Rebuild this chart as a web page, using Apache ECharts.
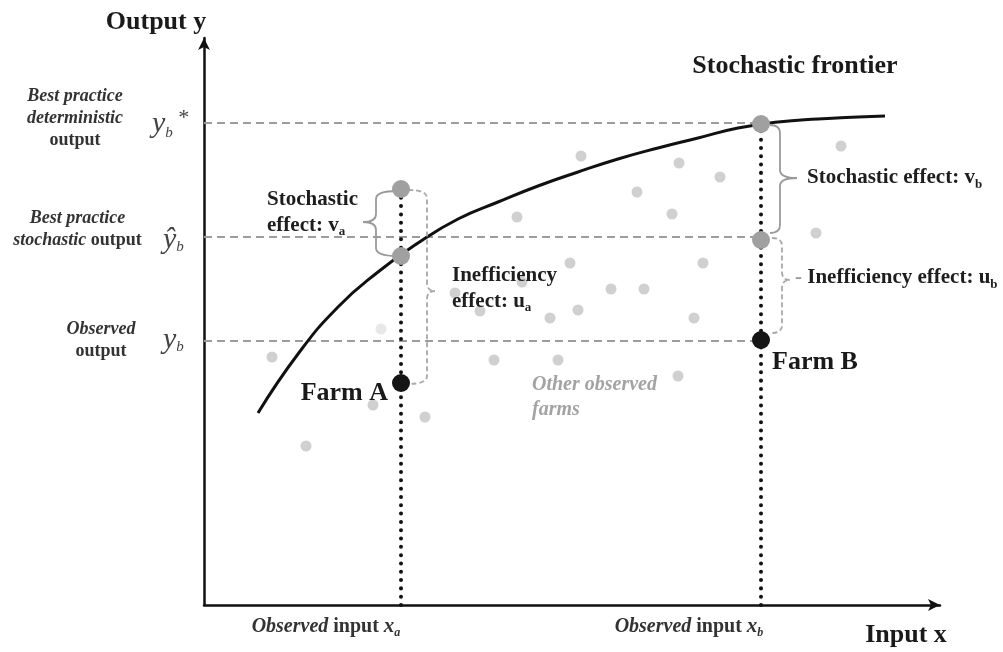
<!DOCTYPE html>
<html>
<head>
<meta charset="utf-8">
<script src="https://cdn.jsdelivr.net/npm/echarts@6/dist/echarts.min.js"></script>
<style>html,body{margin:0;padding:0;background:#fff}#c{width:1003px;height:652px}</style>
</head>
<body>
<div id="c"></div>
<script>
// ---- data (axis units: input x, output y) ----
const frontierX = [5.4, 9.4, 13.4, 17.4, 21.4, 25.4, 29.4, 33.4, 37.4, 41.4, 45.4, 49.4, 53.4, 57.4, 61.4, 65.4, 68.1];
const frontierY = [19.2, 25.1, 29.8, 33.3, 36.2, 38.6, 40.3, 41.9, 43.3, 44.6, 45.7, 46.7, 47.7, 48.3, 48.6, 48.8, 48.9];

const otherX = [6.8, 10.2, 16.9, 22.1, 25.1, 27.6, 31.8, 31.3, 36.6, 34.6, 37.4, 40.7, 44.0, 29.0, 35.4, 37.7, 43.3, 47.5, 46.8, 51.6, 49.9, 49.0, 47.4, 63.7, 61.2];
const otherY = [24.8, 15.9, 20.0, 18.8, 31.2, 29.4, 32.3, 38.8, 34.2, 28.7, 29.5, 31.6, 31.6, 24.5, 24.5, 44.9, 41.3, 44.2, 39.1, 42.8, 34.2, 28.7, 22.9, 45.9, 37.2];
const faintX = [17.7];
const faintY = [27.6];

const farmX = [19.7, 55.7];            // observed inputs x_a, x_b
const farmObsY = [22.2, 26.5];         // observed outputs (black)
const farmFrontY = [41.6, 34.9, 48.1, 36.5]; // grey points: A top, A frontier, B frontier, B stochastic
const farmFrontX = [19.7, 19.7, 55.7, 55.7];

const refLevels = [48.2, 36.8, 26.4];  // y_b*, ŷ_b, y_b
const refEndX = 55.7;
const dottedTop = [41.6, 48.1];

// braces: [armX, topY, bottomY, spineX, tipX, tipY, dashed]
const braceArm = [19.3, 20.4, 56.6, 56.8];
const braceTop = [41.4, 41.5, 48.0, 36.7];
const braceBot = [34.9, 22.1, 37.2, 27.2];
const braceSpine = [17.2, 22.3, 57.6, 57.8];
const braceTip = [15.9, 23.1, 59.3, 58.6];
const braceTipY = [38.3, 31.4, 42.7, 32.5];
const braceDashed = [0, 1, 0, 1];

// ---- chart ----
const serif = '"Liberation Serif","DejaVu Serif",serif';
const rich = {
  T: {fontFamily: serif, fontWeight: 'bold', fontSize: 26, color: '#1a1a1a'},
  L: {fontFamily: serif, fontWeight: 'bold', fontSize: 18, color: '#333', lineHeight: 22},
  LI: {fontFamily: serif, fontWeight: 'bold', fontStyle: 'italic', fontSize: 18, color: '#333', lineHeight: 22},
  E: {fontFamily: serif, fontWeight: 'bold', fontSize: 21, color: '#1e1e1e', lineHeight: 26},
  Es: {fontFamily: serif, fontWeight: 'bold', fontSize: 13, color: '#1e1e1e', lineHeight: 14, verticalAlign: 'bottom'},
  G: {fontFamily: serif, fontWeight: 'bold', fontSize: 21, color: '#999', lineHeight: 26},
  O: {fontFamily: serif, fontWeight: 'bold', fontStyle: 'italic', fontSize: 20, color: '#a3a3a3', lineHeight: 25},
  XI: {fontFamily: serif, fontWeight: 'bold', fontStyle: 'italic', fontSize: 20, color: '#333', lineHeight: 24},
  XB: {fontFamily: serif, fontWeight: 'bold', fontSize: 20, color: '#333', lineHeight: 24},
  XV: {fontFamily: serif, fontWeight: 'bold', fontStyle: 'italic', fontSize: 21, color: '#333', lineHeight: 24},
  Xs: {fontFamily: serif, fontWeight: 'bold', fontStyle: 'italic', fontSize: 12, color: '#333', lineHeight: 12, verticalAlign: 'bottom'},
  Y: {fontFamily: serif, fontStyle: 'italic', fontSize: 30, color: '#444', lineHeight: 30},
  Ys: {fontFamily: serif, fontStyle: 'italic', fontSize: 15, color: '#444', lineHeight: 12, verticalAlign: 'bottom'},
  Yst: {fontFamily: serif, fontSize: 22, color: '#444', lineHeight: 34, verticalAlign: 'top'}
};

const labelX = [-4.8, 70.2, 59.1, -12.9, -12.65, -10.3, -5.2, -4.1, -4.1, 6.3, 24.8, 60.3, 59.1, 18.4, 56.8, 32.8, 12.2, 48.5];
const labelY = [58.3, -3.0, 53.9, 48.7, 37.55, 26.5, 48.1, 36.5, 26.5, 39.25, 31.65, 42.7, 32.7, 21.2, 24.3, 20.75, -2.2, -2.2];
const labelPos = ['inside', 'inside', 'inside', 'inside', 'inside', 'inside', 'right', 'right', 'right', 'right', 'right', 'right', 'right', 'left', 'right', 'right', 'inside', 'inside'];
const labelText = [
  '{T|Output y}',
  '{T|Input x}',
  '{T|Stochastic frontier}',
  '{LI|Best practice}\n{LI|deterministic}\n{L|output}',
  '{LI|Best practice}\n{LI|stochastic}{L| output}',
  '{LI|Observed}\n{L|output}',
  '{Y|y}{Ys|b}{Yst| *}',
  '{Y|ŷ}{Ys|b}',
  '{Y|y}{Ys|b}',
  '{E|Stochastic}\n{E|effect: v}{Es|a}',
  '{E|Inefficiency}\n{E|effect: u}{Es|a}',
  '{E|Stochastic effect: v}{Es|b}',
  '{G|- }{E|Inefficiency effect: u}{Es|b}',
  '{T|Farm A}',
  '{T|Farm B}',
  '{O|Other observed}\n{O|farms}',
  '{XI|Observed}{XB| input }{XV|x}{Xs|a}',
  '{XI|Observed}{XB| input }{XV|x}{Xs|b}'
];

const pair = (xs, ys) => xs.map((x, i) => [x, ys[i]]);

const series = [];
// frontier
series.push({type: 'line', data: pair(frontierX, frontierY), smooth: 0.5, symbol: 'none',
  lineStyle: {color: '#111', width: 3}, z: 4});
// reference dashed lines
refLevels.forEach(v => series.push({type: 'line', data: [[0, v], [refEndX, v]], symbol: 'none',
  lineStyle: {color: '#9c9c9c', width: 2, type: [8, 5]}, z: 2}));
// dotted verticals
farmX.forEach((x, i) => series.push({type: 'line', data: [[x, 0], [x, dottedTop[i]]], symbol: 'none',
  lineStyle: {color: '#111', width: 4, type: [0.01, 8.3], cap: 'round'}, z: 3}));
// other farms
series.push({type: 'scatter', data: pair(otherX, otherY), symbolSize: 11, itemStyle: {color: '#d0d0d0', opacity: 1}, z: 2});
series.push({type: 'scatter', data: pair(faintX, faintY), symbolSize: 11, itemStyle: {color: '#e8e8e8', opacity: 1}, z: 2});
// braces
series.push({
  type: 'custom', coordinateSystem: 'cartesian2d', z: 5, clip: false,
  data: braceArm.map((a, i) => [a, braceTop[i], braceBot[i], braceSpine[i], braceTip[i], braceTipY[i], braceDashed[i]]),
  renderItem: function (params, api) {
    const pa = api.coord([api.value(0), api.value(1)]);
    const pb = api.coord([api.value(0), api.value(2)]);
    const sx = api.coord([api.value(3), 0])[0];
    const tx = api.coord([api.value(4), 0])[0];
    const ty = api.coord([0, api.value(5)])[1];
    const ax = pa[0], top = pa[1], bot = pb[1];
    const r = 8;
    const d = 'M' + ax + ' ' + top + ' Q' + sx + ' ' + top + ' ' + sx + ' ' + (top + r) +
      ' L' + sx + ' ' + (ty - r) + ' Q' + sx + ' ' + ty + ' ' + tx + ' ' + ty +
      ' Q' + sx + ' ' + ty + ' ' + sx + ' ' + (ty + r) +
      ' L' + sx + ' ' + (bot - r) + ' Q' + sx + ' ' + bot + ' ' + ax + ' ' + bot;
    const dashed = api.value(6) === 1;
    return {type: 'path', shape: {pathData: d},
      style: {fill: 'none', stroke: dashed ? '#a8a8a8' : '#9a9a9a', lineWidth: 1.8, lineDash: dashed ? [5, 3] : null}};
  }
});
// farm points
series.push({type: 'scatter', data: pair(farmFrontX, farmFrontY), symbolSize: 18, itemStyle: {color: '#a0a0a0', opacity: 1}, z: 6});
series.push({type: 'scatter', data: pair(farmX, farmObsY), symbolSize: 18, itemStyle: {color: '#151515', opacity: 1}, z: 6});
// text annotations
series.push({
  type: 'scatter', symbolSize: 0, clip: false, z: 10, silent: true,
  itemStyle: {opacity: 1},
  data: labelX.map((x, i) => ({
    value: [x, labelY[i]],
    label: {show: true, position: labelPos[i], distance: 0, formatter: labelText[i], rich: rich, opacity: 1,
      align: labelPos[i] === 'inside' ? 'center' : (labelPos[i] === 'right' ? 'left' : 'right')}
  }))
});

const chart = echarts.init(document.getElementById('c'), null, {renderer: 'canvas'});
chart.setOption({
  animation: false,
  backgroundColor: '#fff',
  grid: {left: 204, right: 63, top: 38, bottom: 47, containLabel: false},
  xAxis: {type: 'value', min: 0, max: 73.6, axisLine: {show: true, symbol: ['none', 'arrow'], symbolSize: [9, 12],
    lineStyle: {color: '#111', width: 2.5}}, axisTick: {show: false}, axisLabel: {show: false}, splitLine: {show: false}},
  yAxis: {type: 'value', min: 0, max: 56.7, axisLine: {show: true, symbol: ['none', 'arrow'], symbolSize: [9, 12],
    lineStyle: {color: '#111', width: 2.5}}, axisTick: {show: false}, axisLabel: {show: false}, splitLine: {show: false}},
  series: series
});
</script>
</body>
</html>
